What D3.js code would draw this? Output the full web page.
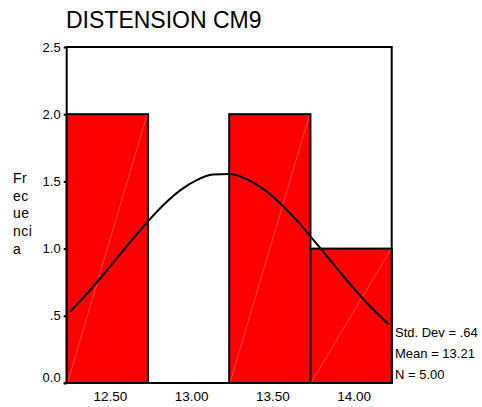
<!DOCTYPE html>
<html><head><meta charset="utf-8">
<script src="https://cdn.jsdelivr.net/npm/d3@7"></script>
<style>
html,body{margin:0;padding:0;background:#fff;}
svg{display:block;font-family:"Liberation Sans",Arial,sans-serif;}
</style></head>
<body><svg id="c" width="482" height="407"></svg>
<script>
const title = "DISTENSION CM9";
const yLabelLines = ["Fr", "ec", "ue", "nci", "a"];
const binLo = [12.25, 12.75, 13.25, 13.75];
const binHi = [12.75, 13.25, 13.75, 14.25];
const counts = [2, 0, 2, 1];
const xTicks = [12.5, 13.0, 13.5, 14.0];
const xTickLabels = ["12.50", "13.00", "13.50", "14.00"];
const yTicks = [0, 0.5, 1, 1.5, 2, 2.5];
const yTickLabels = ["0.0", ".5", "1.0", "1.5", "2.0", "2.5"];
const curveX = [12.27, 12.35, 12.45, 12.55, 12.65, 12.75, 12.85, 12.95, 13.05, 13.15, 13.25, 13.35, 13.45, 13.55, 13.65, 13.75, 13.85, 13.95, 14.05, 14.15, 14.23];
const curveY = [0.53, 0.632, 0.77, 0.916, 1.062, 1.203, 1.33, 1.435, 1.51, 1.551, 1.555, 1.521, 1.452, 1.353, 1.23, 1.091, 0.945, 0.798, 0.658, 0.53, 0.437];
const statsLines = ["Std. Dev = .64", "Mean = 13.21", "N = 5.00"];

const svg = d3.select("#c");
const L = 66.7, R = 391.7, T = 47, B = 383;
const x = d3.scaleLinear().domain([12.25, 14.25]).range([L, R]);
const y = d3.scaleLinear().domain([0, 2.5]).range([B, T]);

// title
svg.append("text").attr("x", 66).attr("y", 28).attr("font-size", 23)
  .attr("fill", "#000").text(title);

// frame
svg.append("rect").attr("x", L).attr("y", T).attr("width", R - L).attr("height", B - T)
  .attr("fill", "none").attr("stroke", "#000").attr("stroke-width", 2);

// bars
const bins = counts.map((c, i) => ({lo: binLo[i], hi: binHi[i], c}));
const bg = svg.append("g");
bins.filter(d => d.c > 0).forEach(d => {
  bg.append("rect").attr("x", x(d.lo)).attr("y", y(d.c))
    .attr("width", x(d.hi) - x(d.lo)).attr("height", y(0) - y(d.c))
    .attr("fill", "#ff0000").attr("stroke", "#000").attr("stroke-width", 2);
  bg.append("line").attr("x1", x(d.lo) + 1).attr("y1", y(0) - 1)
    .attr("x2", x(d.hi) - 1).attr("y2", y(d.c) + 1)
    .attr("stroke", "#ffffff").attr("stroke-opacity", 0.35).attr("stroke-width", 0.8);
});

// normal curve
const pts = curveX.map((v, i) => [v, curveY[i]]);
svg.append("path").datum(pts)
  .attr("d", d3.line().x(d => x(d[0])).y(d => y(d[1])).curve(d3.curveMonotoneX))
  .attr("fill", "none").attr("stroke", "#000").attr("stroke-width", 2);

// y axis
const ya = svg.append("g").attr("transform", `translate(${L},0)`)
  .call(d3.axisLeft(y).tickValues(yTicks).tickSize(3).tickPadding(3)
    .tickFormat((d, i) => yTickLabels[i]));
ya.select(".domain").remove();
ya.selectAll(".tick line").attr("stroke", "#000").attr("stroke-width", 2);
ya.selectAll(".tick text").attr("font-size", 13).attr("fill", "#000")
  .attr("font-family", "Liberation Sans, Arial, sans-serif")
  .attr("dy", (d) => d === 0 ? "-0.1em" : "0.32em");

// x axis
const xa = svg.append("g").attr("transform", `translate(0,${B})`)
  .call(d3.axisBottom(x).tickValues(xTicks).tickSize(0).tickPadding(8)
    .tickFormat((d, i) => xTickLabels[i]));
xa.select(".domain").remove();
xa.selectAll(".tick text").attr("font-size", 13.5).attr("fill", "#000")
  .attr("font-family", "Liberation Sans, Arial, sans-serif").attr("dx", 2.5);

// bottom axis line
svg.append("line").attr("x1", L - 3).attr("x2", R).attr("y1", B).attr("y2", B)
  .attr("stroke", "#000").attr("stroke-width", 2);

// y label
svg.append("g").selectAll("text").data(yLabelLines).join("text")
  .attr("x", 13).attr("y", (d, i) => 183 + i * 17.7)
  .attr("font-size", 14).attr("letter-spacing", 0.5).attr("fill", "#000").text(d => d);

// stats
svg.append("g").selectAll("text").data(statsLines).join("text")
  .attr("x", 395).attr("y", (d, i) => 337 + i * 21)
  .attr("font-size", 13).attr("fill", "#000").text(d => d);
</script></body></html>
